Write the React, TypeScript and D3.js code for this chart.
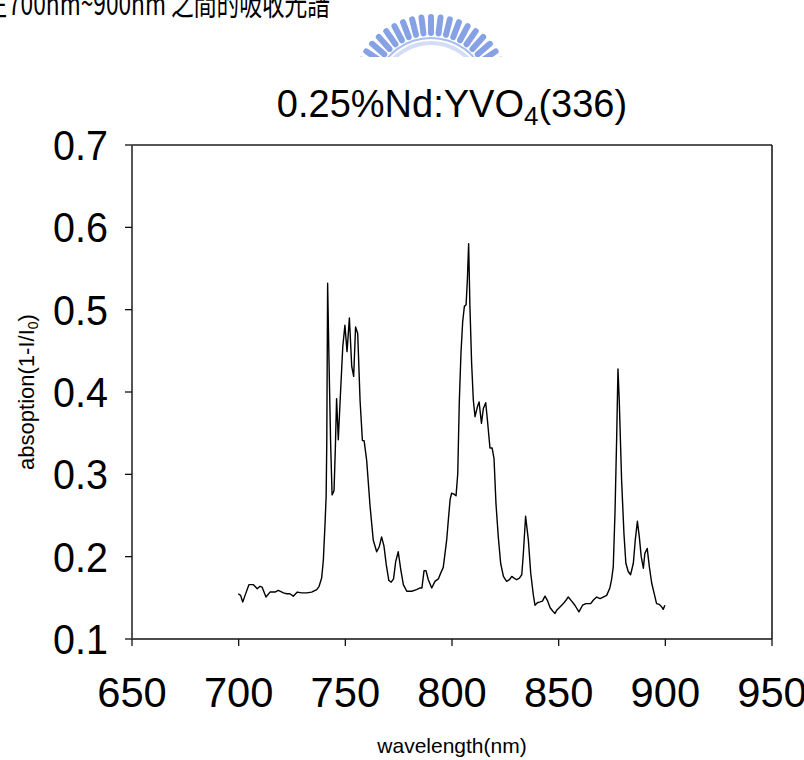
import React from 'react';
import * as d3 from 'd3';

const wavelengths = [
  699.8, 700.9, 701.9, 703, 704.8, 706.9, 708.7, 710, 711, 712.8, 714.7, 717, 718.6, 721, 722.5, 724, 725.6, 727.5,
  729.5, 731.9, 734.2, 736.6, 737.7, 738.9, 739.7, 740.5, 741, 741.3, 741.7, 742.3, 743.1, 743.8, 744.7, 745.3,
  745.9, 746.7, 747.5, 748.8, 749.8, 750.8, 751.9, 753, 753.9, 754.8, 755.8, 756.9, 758, 758.8, 760, 761.6, 763.1,
  764.7, 765.9, 767, 768.1, 769.2, 770.4, 771.5, 772.6, 773.6, 774.8, 776, 777.2, 778.8, 781.1, 783.4, 785, 785.9,
  786.9, 787.8, 788.9, 790.5, 792, 793.6, 794.7, 795.9, 797.5, 798.3, 799.1, 799.8, 800.9, 801.9, 802.7, 803.4,
  804.2, 805, 805.8, 806.6, 807.2, 807.8, 808.4, 809.2, 810, 810.8, 811.9, 812.7, 813.8, 814.7, 815.8, 816.6,
  817.8, 818.8, 819.7, 820.6, 821.7, 822.8, 824.1, 825.6, 826.9, 828, 829.1, 830.3, 831.6, 832.7, 833.4, 834.5,
  835.8, 836.9, 838.1, 838.9, 840, 841.3, 842.4, 843.6, 844.7, 846, 847.2, 848.3, 849.1, 850.6, 852.2, 853.4,
  854.5, 856.1, 857.6, 859.5, 861.2, 862.8, 865, 866.2, 867.8, 869.4, 870.9, 872.5, 874, 874.8, 875.6, 876.4,
  877.2, 877.8, 878.4, 879.5, 880.6, 881.5, 882.6, 883.7, 885, 885.9, 886.9, 887.8, 888.7, 889.7, 890.4, 891.5,
  892.5, 893.6, 894.7, 895.9, 897.2, 898.3, 899, 899.8
];

const absorption = [
  0.155, 0.153, 0.145, 0.153, 0.166, 0.166, 0.161, 0.164, 0.163, 0.151, 0.157, 0.157, 0.159, 0.156, 0.155, 0.155, 0.152, 0.157,
  0.156, 0.156, 0.157, 0.160, 0.164, 0.174, 0.196, 0.241, 0.273, 0.338, 0.532, 0.443, 0.338, 0.275, 0.280, 0.330,
  0.392, 0.342, 0.386, 0.455, 0.481, 0.449, 0.490, 0.431, 0.419, 0.479, 0.471, 0.390, 0.341, 0.341, 0.317, 0.261, 0.220,
  0.206, 0.212, 0.224, 0.213, 0.190, 0.171, 0.169, 0.173, 0.194, 0.206, 0.184, 0.166, 0.158, 0.158, 0.160, 0.162, 0.162,
  0.183, 0.183, 0.172, 0.162, 0.170, 0.173, 0.180, 0.187, 0.220, 0.245, 0.269, 0.277, 0.276, 0.274, 0.301, 0.386,
  0.447, 0.485, 0.504, 0.506, 0.536, 0.580, 0.504, 0.435, 0.390, 0.370, 0.382, 0.388, 0.362, 0.380, 0.387, 0.366,
  0.332, 0.332, 0.319, 0.265, 0.224, 0.192, 0.176, 0.170, 0.172, 0.176, 0.174, 0.172, 0.174, 0.178, 0.202, 0.249,
  0.220, 0.180, 0.154, 0.141, 0.144, 0.145, 0.146, 0.152, 0.147, 0.138, 0.134, 0.131, 0.135, 0.139, 0.143, 0.147,
  0.151, 0.146, 0.141, 0.133, 0.141, 0.143, 0.143, 0.147, 0.151, 0.149, 0.151, 0.153, 0.162, 0.172, 0.188, 0.253,
  0.346, 0.428, 0.390, 0.293, 0.228, 0.192, 0.182, 0.178, 0.192, 0.220, 0.243, 0.224, 0.200, 0.186, 0.204, 0.210,
  0.188, 0.168, 0.156, 0.143, 0.142, 0.139, 0.136, 0.141
];

const xTicks = [650, 700, 750, 800, 850, 900, 950];
const yTicks = [0.1, 0.2, 0.3, 0.4, 0.5, 0.6, 0.7];
const titleMain = '0.25%Nd:YVO';
const titleSub = '4';
const titleTail = '(336)';
const xTitle = 'wavelength(nm)';
const yTitleMain = 'absoption(1-I/I';
const yTitleSub = '0';
const yTitleTail = ')';
const topTextLead = '在';
const topText = '700nm~900nm 之間的吸收光譜';

export default function App() {
  const W = 804;
  const H = 760;
  const left = 132, right = 772, top = 145, bottom = 639;
  const x = d3.scaleLinear().domain([650, 950]).range([left, right]);
  const y = d3.scaleLinear().domain([0.1, 0.7]).range([bottom, top]);
  const line = d3
    .line<number>()
    .x((_, i) => x(wavelengths[i]))
    .y((d) => y(d));
  const pathD = line(absorption) || '';

  // decorative logo teeth
  const cx = 431, cy = 95;
  const angles = d3.range(-160, -19, 7);
  const font = "'Liberation Sans', Arial, sans-serif";
  const sx = 0.94;

  return (
    <svg
      width={W}
      height={H}
      viewBox={`0 0 ${W} ${H}`}
      style={{ position: 'absolute', left: 0, top: 0, background: '#fff' }}
    >
      <rect x={0} y={0} width={W} height={H} fill="#fff" />
      {/* cut-off caption at the very top */}
      <text x={-24} y={15} fontFamily="'Noto Sans CJK TC', serif" fontSize={32} fill="#000">
        {topTextLead}
      </text>
      <text
        x={8}
        y={15}
        fontFamily="'Noto Sans CJK TC', serif"
        fontSize={32}
        fill="#000"
        textLength={322}
        lengthAdjust="spacingAndGlyphs"
      >
        {topText}
      </text>
      {/* logo */}
      <defs>
        <clipPath id="logoClip">
          <rect x={300} y={0} width={260} height={57} />
        </clipPath>
      </defs>
      <g clipPath="url(#logoClip)">
        <path
          d={d3.arc()({ innerRadius: 50, outerRadius: 54, startAngle: -Math.PI * 0.36, endAngle: Math.PI * 0.36 }) || ''}
          transform={`translate(${cx},${cy})`}
          fill="#d3ddf6"
        />
        <path
          d={d3.arc()({ innerRadius: 56, outerRadius: 58, startAngle: -Math.PI * 0.4, endAngle: Math.PI * 0.4 }) || ''}
          transform={`translate(${cx},${cy})`}
          fill="#a9bdee"
        />
        {angles.map((a, i) => {
          const r = (a * Math.PI) / 180;
          const r1 = 62, r2 = 78;
          return (
            <line
              key={i}
              x1={cx + r1 * Math.cos(r)}
              y1={cy + r1 * Math.sin(r)}
              x2={cx + r2 * Math.cos(r)}
              y2={cy + r2 * Math.sin(r)}
              stroke="#86a2e4"
              strokeWidth={6}
              strokeLinecap="round"
            />
          );
        })}
      </g>

      {/* title */}
      <text x={(left + right) / 2} y={117} textAnchor="middle" fontFamily={font} fontSize={38} fill="#000">
        {titleMain}
        <tspan fontSize={26} dy={8}>{titleSub}</tspan>
        <tspan fontSize={38} dy={-8}>{titleTail}</tspan>
      </text>

      {/* frame */}
      <line x1={left} y1={top} x2={right} y2={top} stroke="#555" strokeWidth={2} />
      <line x1={right} y1={top} x2={right} y2={bottom} stroke="#111" strokeWidth={1.5} />
      <line x1={left} y1={bottom} x2={right} y2={bottom} stroke="#111" strokeWidth={1.5} />
      <line x1={left} y1={top} x2={left} y2={bottom} stroke="#555" strokeWidth={2} />

      {/* y axis */}
      {yTicks.map((t) => (
        <g key={t}>
          <line x1={left - 7} x2={left} y1={y(t)} y2={y(t)} stroke="#111" strokeWidth={1.3} />
          <text
            transform={`translate(108,${y(t) + 15}) scale(${sx},1)`}
            textAnchor="end"
            fontFamily={font}
            fontSize={42}
            fill="#000"
          >
            {t.toFixed(1)}
          </text>
        </g>
      ))}
      {/* x axis */}
      {xTicks.map((t) => (
        <g key={t}>
          <line x1={x(t)} x2={x(t)} y1={bottom} y2={bottom + 7} stroke="#111" strokeWidth={1.3} />
          <text
            transform={`translate(${x(t)},707) scale(0.97,1)`}
            textAnchor="middle"
            fontFamily={font}
            fontSize={43}
            fill="#000"
          >
            {t}
          </text>
        </g>
      ))}

      {/* axis titles */}
      <text x={(left + right) / 2} y={753} textAnchor="middle" fontFamily={font} fontSize={21} fill="#000">
        {xTitle}
      </text>
      <text
        transform={`translate(34,${(top + bottom) / 2}) rotate(-90)`}
        textAnchor="middle"
        fontFamily={font}
        fontSize={22}
        fill="#000"
      >
        {yTitleMain}
        <tspan fontSize={14} dy={4}>{yTitleSub}</tspan>
        <tspan fontSize={22} dy={-4}>{yTitleTail}</tspan>
      </text>

      {/* data */}
      <path d={pathD} fill="none" stroke="#000" strokeWidth={1.4} strokeLinejoin="round" />
    </svg>
  );
}
